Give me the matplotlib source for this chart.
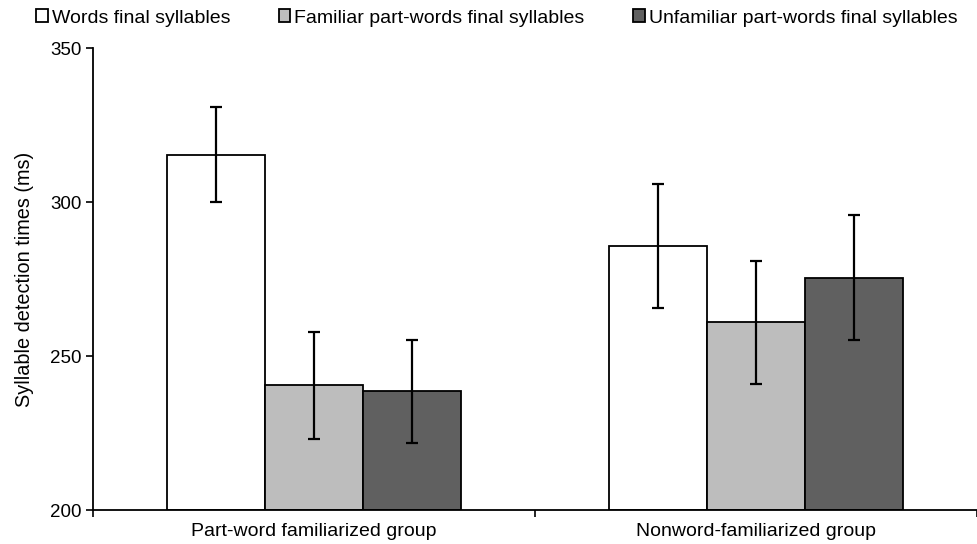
import matplotlib
matplotlib.use("Agg")
import matplotlib.pyplot as plt
import numpy as np

groups = ["Part-word familiarized group", "Nonword-familiarized group"]
series = ["Words final syllables", "Familiar part-words final syllables",
          "Unfamiliar part-words final syllables"]
words = [315.3, 285.7]
familiar = [240.5, 261.0]
unfamiliar = [238.5, 275.4]
words_err = [15.4, 20.2]
familiar_err = [17.3, 20.0]
unfamiliar_err = [16.8, 20.3]
colors = ["#ffffff", "#bdbdbd", "#606060"]

plt.rcParams["font.family"] = ["Liberation Sans", "DejaVu Sans"]

fig = plt.figure(figsize=(9.78, 5.44), dpi=100)
ax = fig.add_axes([93 / 978, 34 / 544, 884 / 978, 462 / 544])

x = np.arange(len(groups))
w = 0.222
values = [words, familiar, unfamiliar]
errs = [words_err, familiar_err, unfamiliar_err]
for i, (vals, err, c, lab) in enumerate(zip(values, errs, colors, series)):
    ax.bar(x + (i - 1) * w, np.array(vals) - 200, width=w, bottom=200,
           color=c, edgecolor="black", linewidth=1.3, label=lab, zorder=2)
    ax.errorbar(x + (i - 1) * w, vals, yerr=err, fmt="none", ecolor="black",
                elinewidth=1.6, capsize=4.5, capthick=1.6, zorder=3)

ax.set_xlim(-0.5, 1.5)
ax.set_ylim(200, 350)
ax.set_yticks([200, 250, 300, 350])
ax.set_xticks([-0.5, 0.5, 1.5])
ax.set_xticklabels([])
ax.set_xticks(x, minor=True)
ax.set_xticklabels(groups, minor=True, fontsize=14)
ax.tick_params(axis="x", which="minor", length=0, pad=9)
ax.tick_params(axis="x", which="major", length=5, width=1.2)
ax.tick_params(axis="y", length=5, width=1.2, labelsize=13.5, pad=3)
ax.set_ylabel("Syllable detection times (ms)", fontsize=14.3, labelpad=12)

for s in ["top", "right"]:
    ax.spines[s].set_visible(False)
for s in ["left", "bottom"]:
    ax.spines[s].set_linewidth(1.3)

fig.legend(loc="center left", bbox_to_anchor=(36 / 978, 1 - 18 / 544), ncol=3,
           frameon=False, fontsize=14, handlelength=0.6, handleheight=0.6,
           handletextpad=0.2, columnspacing=2.5, borderaxespad=0, borderpad=0)

fig.savefig("out.png", dpi=100)
